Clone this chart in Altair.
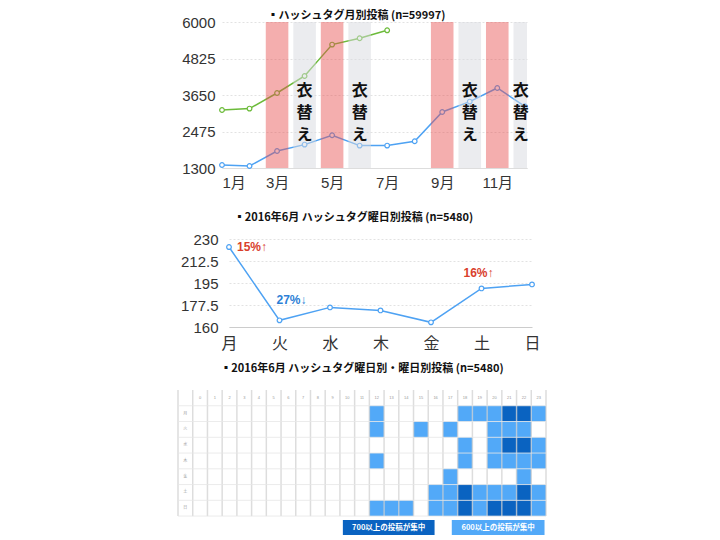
import altair as alt
import pandas as pd

FONT = "Liberation Sans, Noto Sans CJK JP"
CJK = "Noto Sans CJK JP"

# ---------------- data: monthly posts ----------------
months = list(range(1, 13))
posts_blue = [1397, 1364, 1847, 2053, 2353, 2021, 2021, 2160, 3103, 3437, 3876, 3286]
green_months = [1, 2, 3, 4, 5, 6, 7]
posts_green = [3167, 3212, 3715, 4262, 5273, 5476, 5733]
red_band_months = [3, 5, 9, 11]
gray_band_months = [4, 6, 10, 12]
koromogae_text = "衣\n替\nえ"
koromogae_level = 3770
month_ticks = [1, 3, 5, 7, 9, 11]
month_y_ticks = [1300, 2475, 3650, 4825, 6000]

# ---------------- data: weekday posts ----------------
days = ["月", "火", "水", "木", "金", "土", "日"]
day_posts = [223.6, 165.3, 175.6, 173.2, 163.7, 190.7, 193.9]
day_y_ticks = [160, 177.5, 195, 212.5, 230]
note_days = ["月", "火", "土"]
note_texts = ["15%↑", "27%↓", "16%↑"]
note_colors = ["#d9402c", "#2d7fd6", "#d9402c"]

# ---------------- data: weekday x hour heatmap ----------------
hours = list(range(24))
# 0 = below 600, 1 = 600+, 2 = 700+
levels_mon = [0]*12 + [1, 0, 0, 0, 0, 0, 1, 1, 1, 2, 2, 1]
levels_tue = [0]*12 + [1, 0, 0, 1, 0, 1, 0, 0, 1, 1, 1, 0]
levels_wed = [0]*12 + [0, 0, 0, 0, 0, 0, 1, 0, 1, 2, 2, 1]
levels_thu = [0]*12 + [1, 0, 0, 0, 0, 0, 1, 0, 1, 1, 1, 1]
levels_fri = [0]*12 + [0, 0, 0, 0, 0, 1, 0, 0, 0, 0, 1, 0]
levels_sat = [0]*12 + [0, 0, 0, 0, 1, 1, 2, 1, 1, 1, 2, 1]
levels_sun = [0]*12 + [1, 1, 1, 0, 1, 1, 2, 1, 2, 2, 2, 1]
day_levels = [levels_mon, levels_tue, levels_wed, levels_thu, levels_fri, levels_sat, levels_sun]
legend_texts = ["700以上の投稿が集中", "600以上の投稿が集中"]
legend_start = [10.2, 17.6]
legend_end = [16.43, 23.9]
legend_colors = ["#0a63c1", "#52a9f8"]

LIGHT = "#52a9f8"
DARK = "#0a63c1"

def spacer(w):
    return alt.Chart(pd.DataFrame({"s": [0]})).mark_point(opacity=0, size=1).properties(width=w, height=1)

# ================= top chart =================
xs_top = alt.Scale(domain=[1, 12.08], nice=False, zero=False)
ys_top = alt.Scale(domain=[1300, 6000], nice=False, zero=False)
x_axis_top = alt.Axis(values=month_ticks, labelExpr="datum.value + '月'", title=None, grid=False,
                      ticks=False, domain=True, domainColor="#dddddd", labelFontSize=15,
                      labelPadding=7, labelColor="#333333", labelFont=FONT)
y_axis_top = alt.Axis(values=month_y_ticks, format="d", title=None, grid=True, gridDash=[2, 2],
                      gridColor="#e2e2e2", ticks=False, domain=False, labelPadding=7, labelFontSize=15,
                      labelColor="#333333", labelFont=FONT)

df_blue = pd.DataFrame({"month": months, "posts": posts_blue})
df_green = pd.DataFrame({"month": green_months, "posts": posts_green})

def line_layer(df, color):
    return alt.Chart(df).mark_line(
        color=color, strokeWidth=1.5,
        point=alt.OverlayMarkDef(filled=True, fill="white", stroke=color, size=22, strokeWidth=1.2),
    ).encode(
        x=alt.X("month:Q", scale=xs_top, axis=x_axis_top),
        y=alt.Y("posts:Q", scale=ys_top, axis=y_axis_top),
    )

blue_line = line_layer(df_blue, "#4ea2f3")
green_line = line_layer(df_green, "#6cbb3a")

def band_layer(month_list, color, opacity):
    return alt.Chart(pd.DataFrame({"month": month_list})).transform_calculate(
        start="datum.month - 0.41", end="datum.month + 0.41"
    ).mark_rect(color=color, opacity=opacity, clip=True).encode(
        x=alt.X("start:Q", scale=xs_top, axis=x_axis_top),
        x2="end:Q",
    )

red_bands = band_layer(red_band_months, "#e74f4f", 0.46)
gray_bands = band_layer(gray_band_months, "#d8dadf", 0.5)

def text_layer(month_list, shift):
    df_text = pd.DataFrame({"month": month_list,
                            "label": [koromogae_text] * len(month_list),
                            "level": [koromogae_level] * len(month_list)})
    return alt.Chart(df_text).mark_text(
        lineBreak="\n", lineHeight=22, fontSize=16, fontWeight="bold", color="#111111",
        font=CJK, baseline="middle", align="center", dx=shift,
    ).encode(
        x=alt.X("month:Q", scale=xs_top, axis=x_axis_top),
        y=alt.Y("level:Q", scale=ys_top, axis=y_axis_top),
        text="label:N",
    )

band_text = text_layer(gray_band_months[:-1], 0)
band_text_last = text_layer(gray_band_months[-1:], -4)

top = alt.layer(blue_line, green_line, red_bands, gray_bands, band_text, band_text_last).properties(
    width=305, height=146,
    title=alt.TitleParams("▪ハッシュタグ月別投稿 (n=59997)", fontSize=11, fontWeight="bold",
                          font=CJK, color="#111111", dx=-18, offset=-6),
)

# ================= middle chart =================
df_days = pd.DataFrame({"day": days, "posts": day_posts})
xs_mid = alt.Scale(type="point", padding=0, domain=days)
ys_mid = alt.Scale(domain=[160, 230], nice=False, zero=False)
x_axis_mid = alt.Axis(labelAngle=0, title=None, ticks=False, domain=True, domainColor="#cccccc",
                      labelFontSize=16, labelPadding=8, labelColor="#333333", labelFont=FONT)
y_axis_mid = alt.Axis(values=day_y_ticks, format=".1~f", title=None, grid=True, gridDash=[2, 2],
                      gridColor="#e2e2e2", ticks=False, domain=False, labelPadding=11, labelFontSize=15,
                      labelColor="#333333", labelFont=FONT)

mid_line = alt.Chart(df_days).mark_line(
    color="#4ea2f3", strokeWidth=1.5,
    point=alt.OverlayMarkDef(filled=True, fill="white", stroke="#4ea2f3", size=22, strokeWidth=1.2),
).encode(
    x=alt.X("day:N", scale=xs_mid, axis=x_axis_mid, sort=days),
    y=alt.Y("posts:Q", scale=ys_mid, axis=y_axis_mid),
)

note_offsets = [(8, 0), (-3, -20), (-18, -15)]
note_layers = []
for d, t, c, (ox, oy) in zip(note_days, note_texts, note_colors, note_offsets):
    df_n = pd.DataFrame({"day": [d], "posts": [day_posts[days.index(d)]], "label": [t]})
    note_layers.append(
        alt.Chart(df_n).mark_text(align="left", baseline="middle", fontSize=12, fontWeight="bold",
                                  color=c, font=FONT, dx=ox, dy=oy).encode(
            x=alt.X("day:N", scale=xs_mid, axis=x_axis_mid, sort=days),
            y=alt.Y("posts:Q", scale=ys_mid, axis=y_axis_mid),
            text="label:N",
        )
    )

mid = alt.layer(mid_line, *note_layers).properties(
    width=303, height=88,
    title=alt.TitleParams("▪2016年6月 ハッシュタグ曜日別投稿 (n=5480)", fontSize=11, fontWeight="bold",
                          font=CJK, color="#111111", dx=-27, offset=9),
)

# ================= heatmap =================
xs_h = alt.Scale(domain=[-1, 24], nice=False, zero=False)
ys_h = alt.Scale(domain=[0, 9.2], nice=False, zero=False, reverse=True)

cells = []
for di, lv in enumerate(day_levels):
    for h, v in zip(hours, lv):
        if v > 0:
            cells.append({"x": h, "x2": h + 1, "y": di + 1, "y2": di + 2,
                          "level": "700" if v == 2 else "600"})
df_cells = pd.DataFrame(cells)

cell_layer = alt.Chart(df_cells).mark_rect().encode(
    x=alt.X("x:Q", scale=xs_h, axis=None), x2="x2:Q",
    y=alt.Y("y:Q", scale=ys_h, axis=None), y2="y2:Q",
    color=alt.Color("level:N", scale=alt.Scale(domain=["600", "700"], range=[LIGHT, DARK]), legend=None),
)

col_bounds = [-1] + [h for h in hours] + [24]
df_v = pd.DataFrame({"x": col_bounds, "y": [0] * len(col_bounds), "y2": [len(days) + 1] * len(col_bounds)})
vrules = alt.Chart(df_v).mark_rule(color="#cfcfcf", strokeWidth=1.5, opacity=0.7).encode(
    x=alt.X("x:Q", scale=xs_h, axis=None),
    y=alt.Y("y:Q", scale=ys_h, axis=None), y2="y2:Q",
)
row_bounds = list(range(1, len(days) + 2))
df_hr = pd.DataFrame({"y": row_bounds, "x": [-1] * len(row_bounds), "x2": [24] * len(row_bounds)})
hrules = alt.Chart(df_hr).mark_rule(color="#e6e6e6", strokeWidth=1, opacity=0.8).encode(
    x=alt.X("x:Q", scale=xs_h, axis=None), x2="x2:Q",
    y=alt.Y("y:Q", scale=ys_h, axis=None),
)

df_hlab = pd.DataFrame({"x": [h + 0.5 for h in hours], "y": [0.5] * 24, "t": [str(h) for h in hours]})
hour_text = alt.Chart(df_hlab).mark_text(fontSize=4, color="#999999", font=FONT, baseline="middle").encode(
    x=alt.X("x:Q", scale=xs_h, axis=None), y=alt.Y("y:Q", scale=ys_h, axis=None), text="t:N")
df_dlab = pd.DataFrame({"x": [-0.5] * 7, "y": [i + 1.5 for i in range(7)], "t": days})
day_text = alt.Chart(df_dlab).mark_text(fontSize=4, color="#999999", font=CJK, baseline="middle").encode(
    x=alt.X("x:Q", scale=xs_h, axis=None), y=alt.Y("y:Q", scale=ys_h, axis=None), text="t:N")

df_leg = pd.DataFrame({"x": legend_start, "x2": legend_end, "y": [8.25, 8.25], "y2": [9.2, 9.2],
                       "t": legend_texts, "c": legend_colors,
                       "xm": [(a + b) / 2 for a, b in zip(legend_start, legend_end)],
                       "ym": [8.725, 8.725]})
leg_rect = alt.Chart(df_leg).mark_rect().encode(
    x=alt.X("x:Q", scale=xs_h, axis=None), x2="x2:Q",
    y=alt.Y("y:Q", scale=ys_h, axis=None), y2="y2:Q",
    color=alt.Color("c:N", scale=None),
)
leg_text = alt.Chart(df_leg).mark_text(fontSize=7.5, fontWeight="bold", color="white", font=CJK,
                                       baseline="middle").encode(
    x=alt.X("xm:Q", scale=xs_h, axis=None), y=alt.Y("ym:Q", scale=ys_h, axis=None), text="t:N")

heat = alt.layer(cell_layer, vrules, hrules, hour_text, day_text, leg_rect, leg_text).properties(
    width=368, height=145,
    title=alt.TitleParams("▪2016年6月 ハッシュタグ曜日別・曜日別投稿 (n=5480)", fontSize=11, fontWeight="bold",
                          font=CJK, color="#111111", offset=15),
)

top_row = alt.hconcat(spacer(3), top, spacing=0)
mid_row = alt.hconcat(spacer(1.5), mid, spacing=0)
inner = alt.concat(mid_row, heat, columns=1, spacing=12)
chart = alt.concat(top_row, inner, columns=1, spacing=22).properties(
    padding={"left": 169, "top": 2, "right": 0, "bottom": 0}
).configure(font=FONT).configure_view(stroke=None)

chart.save("out.html", embed_options={"renderer": "svg", "actions": False})
